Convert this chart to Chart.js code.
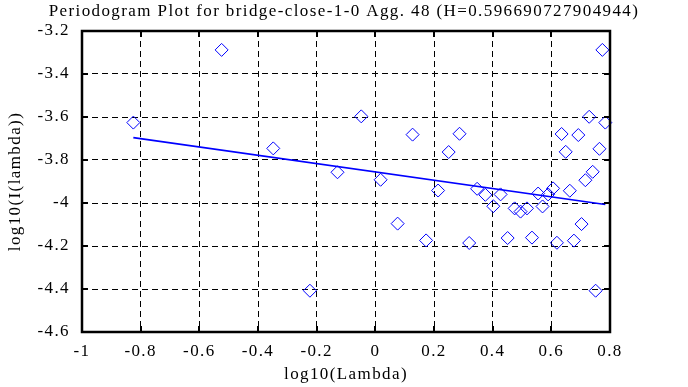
<!DOCTYPE html>
<html>
<head>
<meta charset="utf-8">
<script src="https://cdn.jsdelivr.net/npm/chart.js@4/dist/chart.umd.min.js"></script>
<style>
  html, body { margin: 0; padding: 0; background: #fff; }
  #wrap { width: 688px; height: 387px; }
</style>
</head>
<body>
<div id="wrap"><canvas id="chart"></canvas></div>
<script>
// periodogram points, log10(lambda) vs log10(I(lambda))
const logLambda = [
  -0.825, -0.524, -0.348, -0.223, -0.129, -0.048, 0.018, 0.076, 0.127, 0.173,
  0.214, 0.250, 0.287, 0.320, 0.347, 0.375, 0.402, 0.427, 0.451, 0.475,
  0.495, 0.517, 0.534, 0.555, 0.570, 0.589, 0.606, 0.619, 0.635, 0.649,
  0.663, 0.677, 0.692, 0.703, 0.716, 0.729, 0.741, 0.751, 0.764, 0.774, 0.784
];
const logI = [
  -3.626, -3.288, -3.746, -4.408, -3.857, -3.597, -3.892, -4.096, -3.682, -4.174,
  -3.942, -3.763, -3.678, -4.186, -3.934, -3.962, -4.015, -3.960, -4.163, -4.025,
  -4.040, -4.025, -4.161, -3.956, -4.016, -3.960, -3.932, -4.185, -3.679, -3.762,
  -3.943, -4.175, -3.684, -4.098, -3.894, -3.599, -3.855, -4.408, -3.748, -3.288, -3.626
];
// least squares fit line end points
const fitX = [-0.825, 0.784];
const fitY = [-3.696, -4.007];

const xTicks = [-1, -0.8, -0.6, -0.4, -0.2, 0, 0.2, 0.4, 0.6, 0.8];
const yTicks = [-4.6, -4.4, -4.2, -4, -3.8, -3.6, -3.4, -3.2];

const FONT = 'Liberation Serif, Times New Roman, serif';
const fmt = v => String(Number(v.toFixed(1)));

// the original font is a wide bitmap Times, so space the letters out a bit
const spacingPlugin = {
  id: 'spacing',
  beforeUpdate(chart) { chart.ctx.letterSpacing = '1.4px'; },
  beforeDraw(chart) { chart.ctx.letterSpacing = '1.4px'; }
};

// frame and inward tick marks, as the original plot has
const framePlugin = {
  id: 'frame',
  afterDraw(chart) {
    const { ctx, chartArea: a, scales } = chart;
    ctx.save();
    ctx.strokeStyle = '#000';
    ctx.lineWidth = 2;
    ctx.beginPath();
    scales.x.ticks.forEach(t => {
      const px = Math.round(scales.x.getPixelForValue(t.value));
      ctx.moveTo(px, a.bottom); ctx.lineTo(px, a.bottom - 6);
      ctx.moveTo(px, a.top); ctx.lineTo(px, a.top + 6);
    });
    scales.y.ticks.forEach(t => {
      const py = Math.round(scales.y.getPixelForValue(t.value));
      ctx.moveTo(a.left, py); ctx.lineTo(a.left + 6, py);
      ctx.moveTo(a.right, py); ctx.lineTo(a.right - 6, py);
    });
    ctx.stroke();
    ctx.lineWidth = 2.5;
    ctx.strokeRect(a.left, a.top, a.right - a.left, a.bottom - a.top);
    ctx.restore();
  }
};

new Chart(document.getElementById('chart'), {
  type: 'scatter',
  data: {
    datasets: [
      {
        label: 'periodogram',
        data: logLambda.map((x, i) => ({ x: x, y: logI[i] })),
        pointStyle: 'rectRot',
        pointRadius: 6.5,
        pointBorderColor: '#0000ff',
        pointBackgroundColor: 'rgba(0,0,0,0)',
        pointBorderWidth: 1,
        showLine: false,
        clip: false
      },
      {
        label: 'fit',
        data: fitX.map((x, i) => ({ x: x, y: fitY[i] })),
        showLine: true,
        borderColor: '#0000ff',
        borderWidth: 1.6,
        pointRadius: 0,
        clip: false
      }
    ]
  },
  options: {
    responsive: true,
    maintainAspectRatio: false,
    animation: false,
    events: [],
    layout: { padding: 0 },
    plugins: {
      legend: { display: false },
      tooltip: { enabled: false },
      title: {
        display: true,
        text: 'Periodogram Plot for bridge-close-1-0 Agg. 48 (H=0.596690727904944)',
        color: '#000',
        font: { family: FONT, size: 17, weight: 'normal', lineHeight: 1.2 },
        padding: { top: 1, bottom: 9.6 }
      }
    },
    scales: {
      x: {
        type: 'linear',
        min: -1,
        max: 0.8,
        afterBuildTicks: s => { s.ticks = xTicks.map(v => ({ value: v })); },
        afterFit: s => { s.height = 55; },
        grid: { color: '#000', lineWidth: 1, drawTicks: false, borderDash: [6, 4] },
        border: { display: false, dash: [6, 4] },
        ticks: {
          color: '#000',
          padding: 9,
          maxRotation: 0,
          autoSkip: false,
          font: { family: FONT, size: 17 },
          callback: v => fmt(v)
        },
        title: {
          display: true,
          text: 'log10(Lambda)',
          color: '#000',
          font: { family: FONT, size: 17, lineHeight: 1.2 },
          padding: { top: 0, bottom: 2 }
        }
      },
      y: {
        type: 'linear',
        min: -4.6,
        max: -3.2,
        afterBuildTicks: s => { s.ticks = yTicks.map(v => ({ value: v })); },
        afterFit: s => { s.width = 82; },
        grid: { color: '#000', lineWidth: 1, drawTicks: false, borderDash: [6, 4] },
        border: { display: false, dash: [6, 4] },
        ticks: {
          color: '#000',
          padding: 12,
          autoSkip: false,
          font: { family: FONT, size: 17 },
          callback: v => fmt(v)
        },
        title: {
          display: true,
          text: 'log10(I(lambda))',
          color: '#000',
          font: { family: FONT, size: 17, lineHeight: 1.2 },
          padding: { top: 5, bottom: 0 }
        }
      },
      // empty right-hand axis, only reserves the white margin right of the plot
      yRight: {
        type: 'linear',
        position: 'right',
        min: -4.6,
        max: -3.2,
        afterFit: s => { s.width = 78; },
        grid: { display: false },
        border: { display: false },
        ticks: { display: false }
      }
    }
  },
  plugins: [spacingPlugin, framePlugin]
});
</script>
</body>
</html>
